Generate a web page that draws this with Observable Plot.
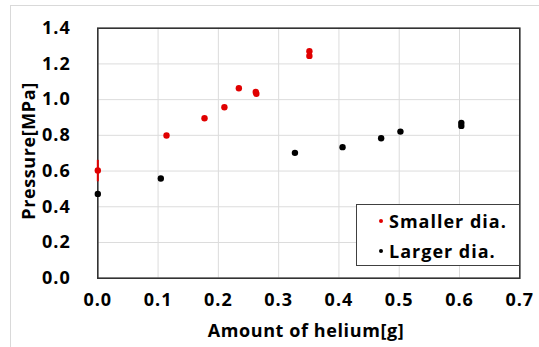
<!DOCTYPE html>
<html>
<head>
<meta charset="utf-8">
<script src="https://cdn.jsdelivr.net/npm/d3@7"></script>
<script src="https://cdn.jsdelivr.net/npm/@observablehq/plot@0.6"></script>
<style>
  html, body { margin: 0; padding: 0; background: #fff; }
  #wrap { position: relative; width: 539px; height: 347px; overflow: hidden; font-family: "Open Sans", sans-serif; }
  #border { position: absolute; left: 10px; top: 5px; width: 600px; height: 400px; border-left: 1px solid #d9d9d9; border-top: 1px solid #d9d9d9; }
  #chart { position: absolute; left: 0; top: 0; }
  #chart svg text { letter-spacing: 1px; }
  .title { position: absolute; font-weight: 700; font-size: 18px; color: #000; white-space: nowrap; letter-spacing: 0.6px; }
  #xtitle { left: 306px; top: 330px; transform: translate(-50%, -50%); }
  #ytitle { left: 28px; top: 151px; transform: translate(-50%, -50%) rotate(-90deg); }
  #legend { position: absolute; left: 356px; top: 204px; width: 162px; height: 60px; border: 1px solid #404040; background: #fff; }
  .row { position: absolute; left: 22px; font-weight: 700; font-size: 18px; letter-spacing: 1px; color: #000; line-height: 20px; white-space: nowrap; }
  .row .dot { display: inline-block; width: 4px; height: 4px; border-radius: 50%; margin-right: 6px; vertical-align: middle; position: relative; top: -2px; }
</style>
</head>
<body>
<div id="wrap">
  <div id="border"></div>
  <div id="chart"></div>
  <div class="title" id="xtitle"></div>
  <div class="title" id="ytitle"></div>
  <div id="legend"></div>
</div>
<script>
// Data
const seriesNames = ["Smaller dia.", "Larger dia."];
const seriesColors = ["#e00000", "#000000"];
const smallerX = [0.0, 0.114, 0.177, 0.210, 0.234, 0.262, 0.263, 0.351, 0.351];
const smallerY = [0.603, 0.799, 0.896, 0.957, 1.064, 1.043, 1.033, 1.271, 1.245];
const largerX = [0.0, 0.1045, 0.327, 0.406, 0.470, 0.502, 0.603, 0.603];
const largerY = [0.472, 0.558, 0.702, 0.734, 0.784, 0.821, 0.870, 0.853];
const errX = [0.0];
const errLow = [0.54];
const errHigh = [0.66];
const xTicks = [0, 0.1, 0.2, 0.3, 0.4, 0.5, 0.6, 0.7];
const yTicks = [0, 0.2, 0.4, 0.6, 0.8, 1.0, 1.2, 1.4];
const xTitle = "Amount of helium[g]";
const yTitle = "Pressure[MPa]";

const smaller = smallerX.map((x, i) => ({x, y: smallerY[i], s: seriesNames[0]}));
const larger = largerX.map((x, i) => ({x, y: largerY[i], s: seriesNames[1]}));
const errs = errX.map((x, i) => ({x, lo: errLow[i], hi: errHigh[i]}));

const plot = Plot.plot({
  width: 539,
  height: 347,
  marginLeft: 97.3,
  marginRight: 19.7,
  marginTop: 27.7,
  marginBottom: 69.3,
  style: {fontFamily: "'Open Sans', sans-serif", fontWeight: "700", color: "#000", background: "transparent"},
  x: {domain: [0, 0.7]},
  y: {domain: [0, 1.4]},
  marks: [
    Plot.gridX(xTicks, {stroke: "#dcdcdc", strokeOpacity: 1}),
    Plot.gridY(yTicks, {stroke: "#dcdcdc", strokeOpacity: 1}),
    Plot.frame({stroke: "#333", strokeWidth: 1.6}),
    Plot.axisX({ticks: xTicks, tickFormat: d3.format(".1f"), tickSize: 0, tickPadding: 15, fontSize: 18, label: null}),
    Plot.axisY({ticks: yTicks, tickFormat: d3.format(".1f"), tickSize: 0, tickPadding: 27, fontSize: 18, label: null}),
    Plot.ruleX(errs, {x: "x", y1: "lo", y2: "hi", stroke: seriesColors[0], strokeWidth: 2}),
    Plot.dot(larger, {x: "x", y: "y", r: 3.2, fill: seriesColors[1]}),
    Plot.dot(smaller, {x: "x", y: "y", r: 3.2, fill: seriesColors[0]})
  ]
});
document.getElementById("chart").appendChild(plot);
document.getElementById("xtitle").textContent = xTitle;
document.getElementById("ytitle").textContent = yTitle;

const legend = document.getElementById("legend");
seriesNames.forEach((name, i) => {
  const row = document.createElement("div");
  row.className = "row";
  row.style.top = (i === 0 ? 6 : 36) + "px";
  const dot = document.createElement("span");
  dot.className = "dot";
  dot.style.background = seriesColors[i];
  row.appendChild(dot);
  row.appendChild(document.createTextNode(name));
  legend.appendChild(row);
});
</script>
</body>
</html>
